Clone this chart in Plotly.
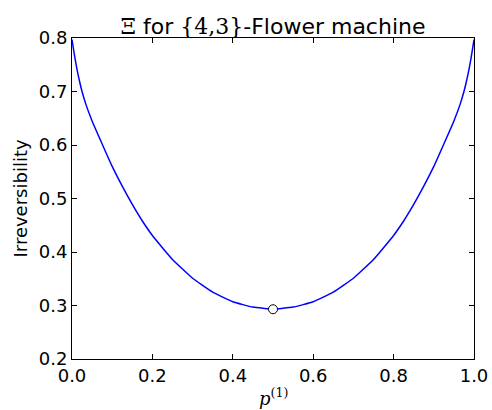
import plotly.graph_objects as go

# Irreversibility of the {4,3}-Flower machine as a function of p^(1)
p_values = [0.0, 0.005, 0.01, 0.015, 0.02, 0.025, 0.035, 0.05, 0.075, 0.1, 0.125, 0.15,
            0.175, 0.2, 0.25, 0.3, 0.35, 0.4, 0.45, 0.5, 0.55, 0.6, 0.65, 0.7, 0.75, 0.8,
            0.825, 0.85, 0.875, 0.9, 0.925, 0.95, 0.965, 0.975, 0.98, 0.985, 0.99, 0.995, 1.0]
irreversibility = [0.797, 0.773, 0.751, 0.732, 0.715, 0.700, 0.675, 0.645, 0.602, 0.560,
                   0.523, 0.489, 0.458, 0.431, 0.386, 0.351, 0.325, 0.307, 0.297, 0.293,
                   0.297, 0.307, 0.325, 0.351, 0.386, 0.431, 0.458, 0.489, 0.523, 0.560,
                   0.602, 0.645, 0.675, 0.700, 0.715, 0.732, 0.751, 0.773, 0.797]

# Minimum point
min_p = [0.5]
min_val = [0.293]

x_ticks = [0.0, 0.2, 0.4, 0.6, 0.8, 1.0]
y_ticks = [0.2, 0.3, 0.4, 0.5, 0.6, 0.7, 0.8]

SERIF = "DejaVu Serif"
SANS = "DejaVu Sans"

fig = go.Figure()
fig.add_trace(go.Scatter(
    x=p_values, y=irreversibility, mode="lines",
    line=dict(color="#0000ff", width=1.5, shape="spline", smoothing=0.4),
    hoverinfo="skip", showlegend=False,
))
fig.add_trace(go.Scatter(
    x=min_p, y=min_val, mode="markers",
    marker=dict(size=9, color="white", line=dict(color="black", width=1)),
    showlegend=False,
))

axis_common = dict(
    showgrid=False, zeroline=False, showline=True, linecolor="black", linewidth=1,
    mirror="ticks", ticks="inside", ticklen=5, tickwidth=1, tickcolor="black",
    tickfont=dict(family=SANS, size=18, color="black"), automargin=False,
)

fig.update_layout(
    width=492, height=410,
    margin=dict(l=72, r=18, t=38, b=51),
    paper_bgcolor="white", plot_bgcolor="white",
    title=dict(
        text=(f'<span style="font-family:{SERIF}">Ξ</span> for '
              f'<span style="font-family:{SERIF}">{{4,3}}</span>-Flower machine'),
        font=dict(family=SANS, size=22, color="black"),
        x=0.5, xref="paper", xanchor="center",
        y=1, yref="paper", yanchor="bottom", pad=dict(b=4),
    ),
    xaxis=dict(range=[0, 1], tickvals=x_ticks, tickformat=".1f", **axis_common),
    yaxis=dict(range=[0.2, 0.8], tickvals=y_ticks, tickformat=".1f", **axis_common),
    annotations=[
        dict(text="<i>p</i><sup>(1)</sup>", xref="paper", yref="paper", x=0.5, y=0,
             xanchor="center", yanchor="middle", yshift=-38, showarrow=False,
             font=dict(family=SERIF, size=18, color="black")),
        dict(text="Irreversibility", xref="paper", yref="paper", x=0, y=0.5,
             xanchor="center", yanchor="middle", xshift=-52, textangle=-90,
             showarrow=False, font=dict(family=SANS, size=18, color="black")),
    ],
)

fig.write_html("out.html")
